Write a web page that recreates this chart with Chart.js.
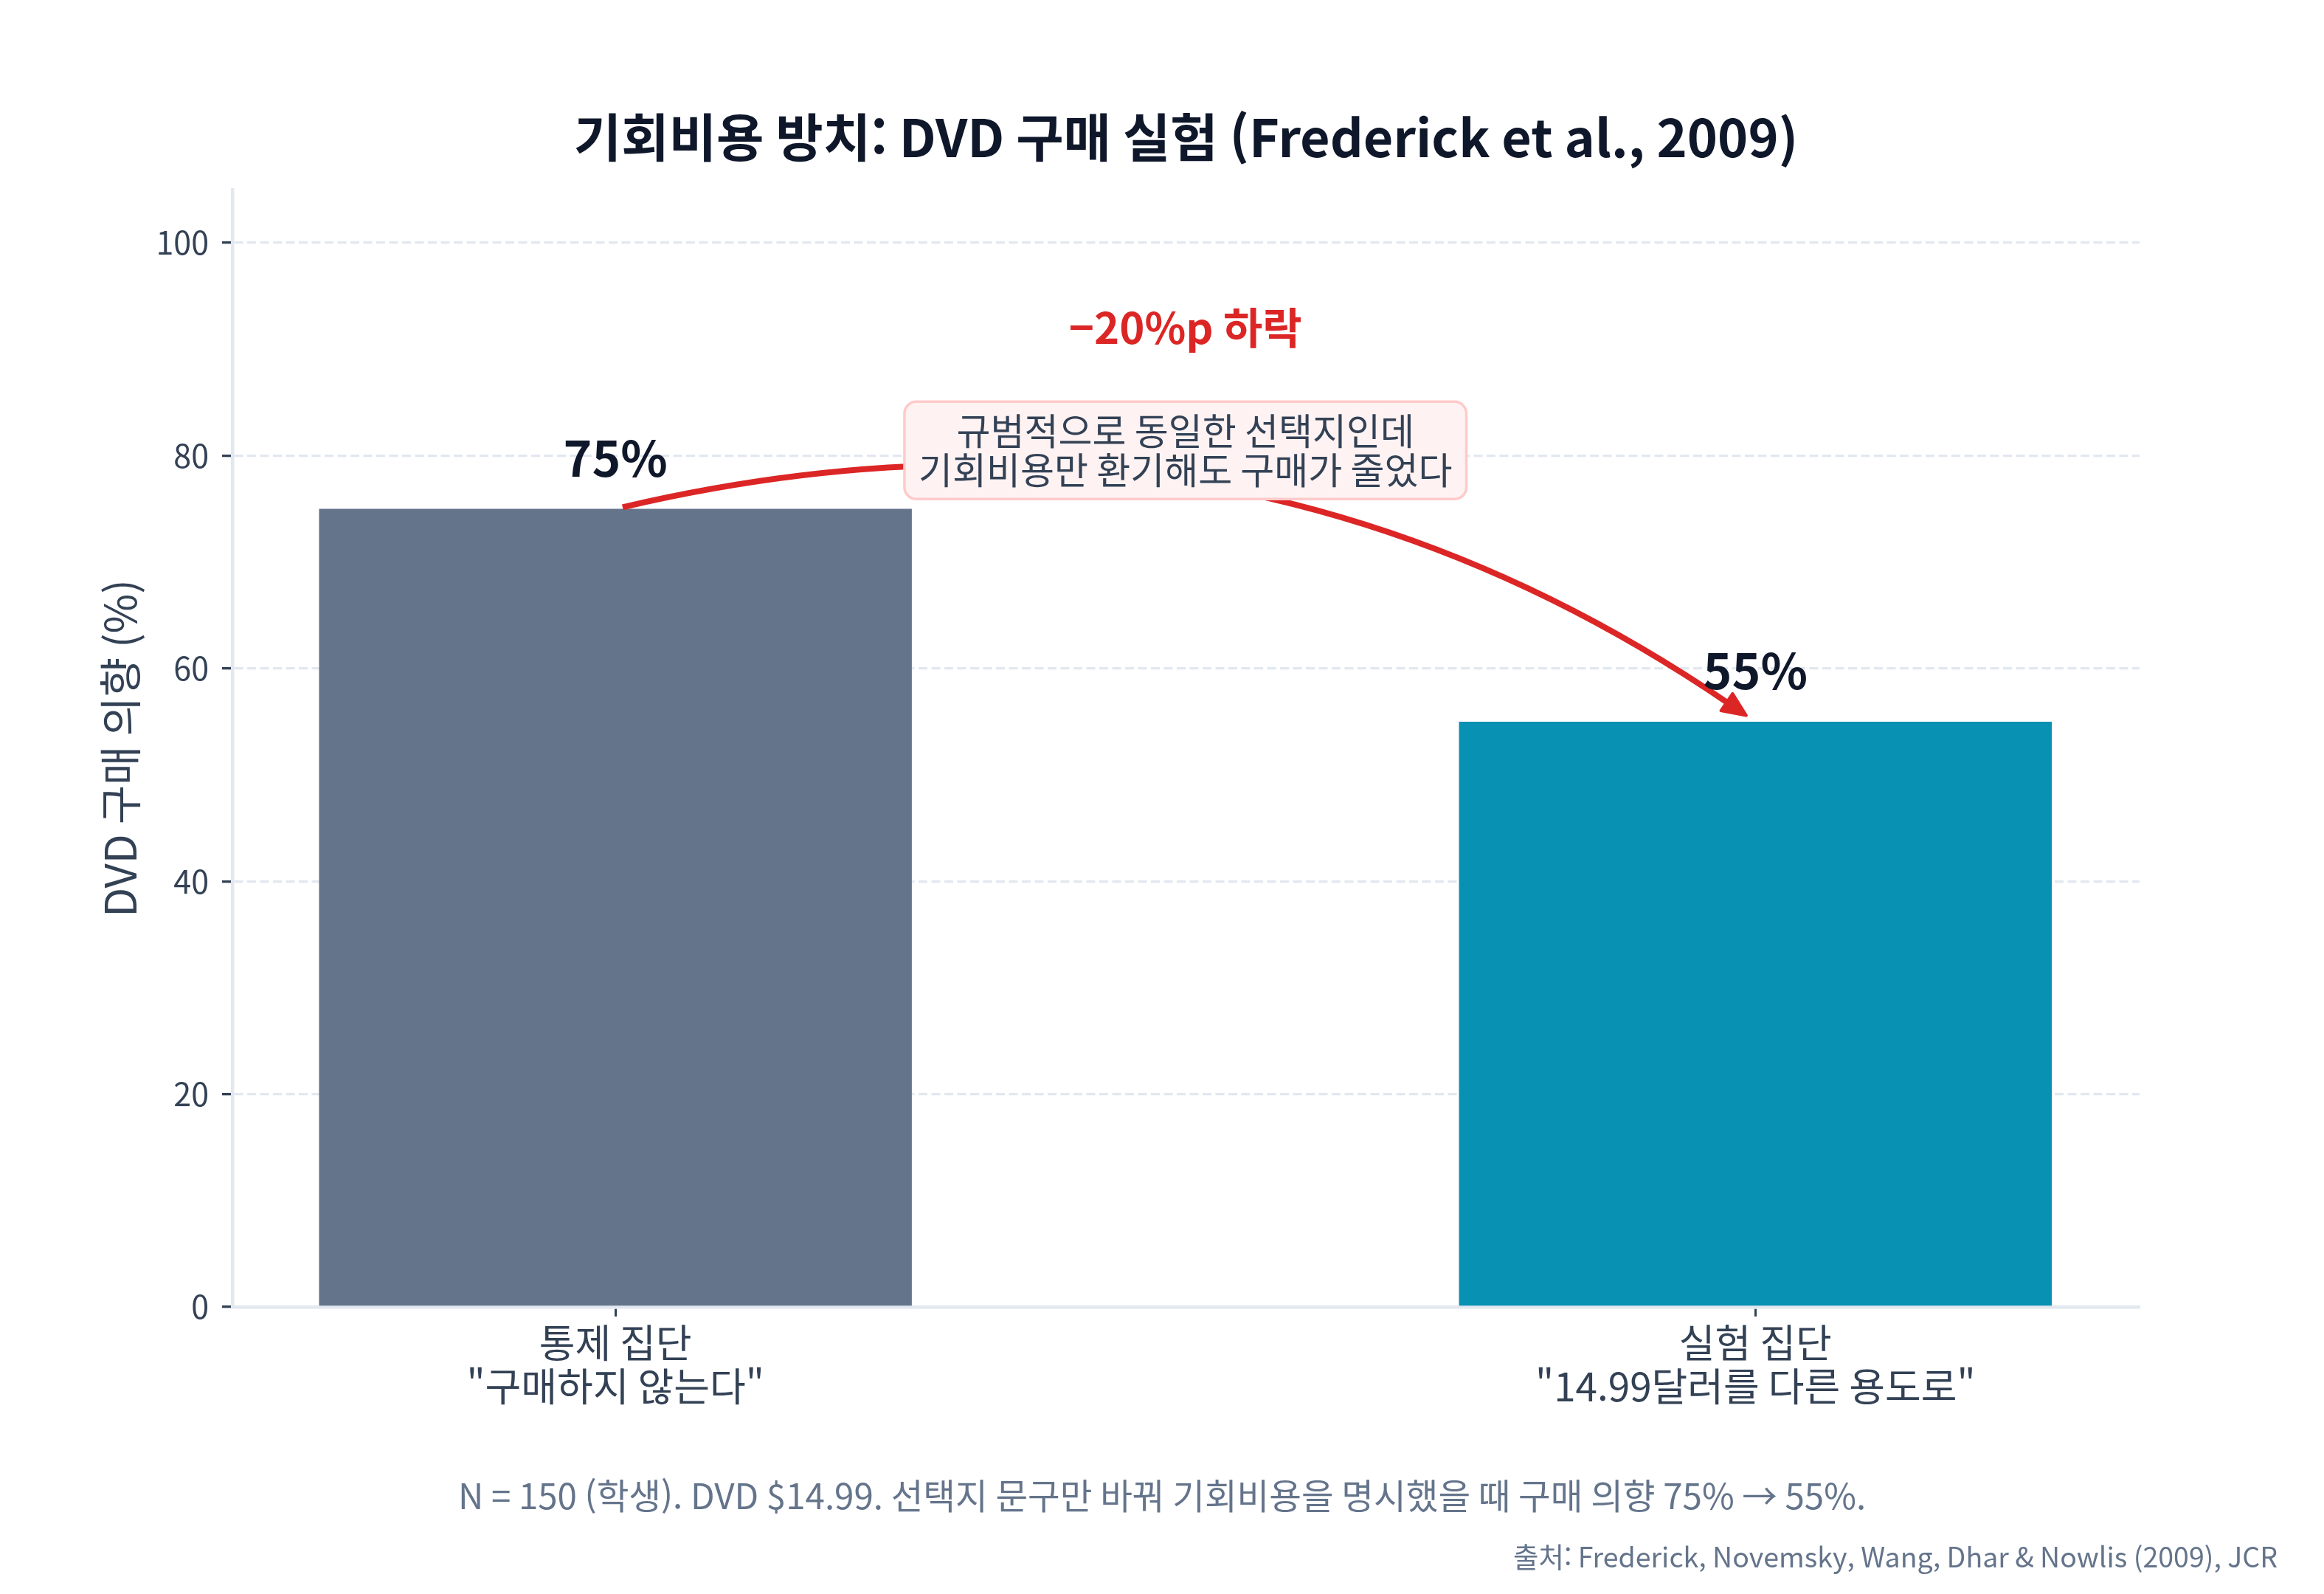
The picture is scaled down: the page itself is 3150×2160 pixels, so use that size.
<!DOCTYPE html>
<html lang="ko">
<head>
<meta charset="utf-8">
<title>기회비용 방치: DVD 구매 실험</title>
<script src="https://cdn.jsdelivr.net/npm/chart.js@4.4.1/dist/chart.umd.min.js"></script>
<style>
  html, body { margin: 0; padding: 0; background: #ffffff; }
  #wrap { width: 3150px; height: 2160px; }
  canvas { display: block; }
</style>
</head>
<body>
<div id="wrap"><canvas id="chart" width="3150" height="2160"></canvas></div>
<script>
const FONT = '"Noto Sans CJK KR", "Noto Sans", sans-serif';

// data
const groupNames = ['통제 집단', '실험 집단'];
const choiceTexts = ['"구매하지 않는다"', '"14.99달러를 다른 용도로"'];
const purchaseRates = [75, 55];
const barColors = ['#64748b', '#0891b2'];
const dropLabel = '\u221220%p 하락';
const noteLines = ['규범적으로 동일한 선택지인데', '기회비용만 환기해도 구매가 줄었다'];
const titleText = '기회비용 방치: DVD 구매 실험 (Frederick et al., 2009)';
const yTitle = 'DVD 구매 의향 (%)';
const footNote = 'N = 150 (학생). DVD $14.99. 선택지 문구만 바꿔 기회비용을 명시했을 때 구매 의향 75% \u2192 55%.';
const sourceNote = '출처: Frederick, Novemsky, Wang, Dhar & Nowlis (2009), JCR';

const C = {
  title: '#0f172a',
  text: '#334155',
  muted: '#64748b',
  grid: '#e2e8f0',
  red: '#dc2626',
  boxFill: '#fef2f2',
  boxLine: '#fecaca',
};

function unit(a, b) {
  const dx = b.x - a.x, dy = b.y - a.y;
  const len = Math.hypot(dx, dy) || 1;
  return { x: dx / len, y: dy / len };
}

const annotations = {
  id: 'annotations',
  afterDatasetsDraw(chart) {
    const { ctx, scales: { x, y } } = chart;
    ctx.save();

    // curved arrow from control bar top to experiment bar top
    const p0 = { x: x.getPixelForValue(0), y: y.getPixelForValue(purchaseRates[0]) };
    const p2 = { x: x.getPixelForValue(1), y: y.getPixelForValue(purchaseRates[1]) };
    const rad = 0.22;
    const c = {
      x: (p0.x + p2.x) / 2 + rad * (p2.y - p0.y),
      y: (p0.y + p2.y) / 2 - rad * (p2.x - p0.x),
    };
    const u0 = unit(p0, c);
    const s = { x: p0.x + u0.x * 10, y: p0.y + u0.y * 10 };
    const u2 = unit(c, p2);
    const tip = { x: p2.x - u2.x * 15, y: p2.y - u2.y * 15 };
    const headLen = 32, headHalf = 14;
    const base = { x: tip.x - u2.x * headLen, y: tip.y - u2.y * headLen };

    ctx.strokeStyle = C.red;
    ctx.lineWidth = 8;
    ctx.beginPath();
    ctx.moveTo(s.x, s.y);
    ctx.quadraticCurveTo(c.x, c.y, base.x + u2.x * 4, base.y + u2.y * 4);
    ctx.stroke();

    ctx.fillStyle = C.red;
    ctx.lineWidth = 4;
    ctx.lineJoin = 'round';
    ctx.beginPath();
    ctx.moveTo(tip.x, tip.y);
    ctx.lineTo(base.x - u2.y * headHalf, base.y + u2.x * headHalf);
    ctx.lineTo(base.x + u2.y * headHalf, base.y - u2.x * headHalf);
    ctx.closePath();
    ctx.fill();
    ctx.stroke();

    // note box
    ctx.font = `50px ${FONT}`;
    const lineGap = 53;
    const maxW = Math.max(...noteLines.map(t => ctx.measureText(t).width));
    const bx = x.getPixelForValue(0.5);
    const by = y.getPixelForValue(80.5);
    const bw = maxW + 2 * 19;
    const bh = noteLines.length * lineGap + 2 * 13;
    ctx.beginPath();
    ctx.roundRect(bx - bw / 2, by - bh / 2, bw, bh, 16);
    ctx.fillStyle = C.boxFill;
    ctx.fill();
    ctx.lineWidth = 3.5;
    ctx.strokeStyle = C.boxLine;
    ctx.stroke();

    ctx.fillStyle = C.text;
    ctx.textAlign = 'center';
    ctx.textBaseline = 'middle';
    noteLines.forEach((t, i) => {
      ctx.fillText(t, bx, by - ((noteLines.length - 1) / 2 - i) * lineGap);
    });

    // drop label
    ctx.font = `bold 58px ${FONT}`;
    ctx.fillStyle = C.red;
    ctx.fillText(dropLabel, x.getPixelForValue(0.5), y.getPixelForValue(92));

    // value labels
    ctx.font = `bold 66px ${FONT}`;
    ctx.fillStyle = C.title;
    ctx.textBaseline = 'alphabetic';
    chart.getDatasetMeta(0).data.forEach((bar, i) => {
      ctx.fillText(purchaseRates[i] + '%', bar.x, bar.y - 44);
    });

    ctx.restore();
  },
  afterDraw(chart) {
    const { ctx } = chart;
    ctx.save();
    ctx.textBaseline = 'middle';
    ctx.fillStyle = C.muted;
    ctx.font = `47.5px ${FONT}`;
    ctx.textAlign = 'center';
    ctx.fillText(footNote, chart.width / 2, 2027);
    ctx.font = `37.5px ${FONT}`;
    ctx.textAlign = 'right';
    ctx.fillText(sourceNote, chart.width * 0.98, 2110);
    ctx.restore();
  },
};

function draw() {
  new Chart(document.getElementById('chart'), {
    type: 'bar',
    data: {
      datasets: [{
        data: purchaseRates.map((v, i) => ({ x: i, y: v })),
        backgroundColor: barColors,
        borderWidth: 0,
        barPercentage: 0.52,
        categoryPercentage: 1,
      }],
    },
    options: {
      responsive: false,
      devicePixelRatio: 1,
      animation: false,
      layout: { padding: { left: 0, right: 250, top: 0, bottom: 0 } },
      plugins: {
        legend: { display: false },
        tooltip: { enabled: false },
        title: {
          display: true,
          text: titleText,
          fullSize: false,
          color: C.title,
          font: { family: FONT, size: 70, weight: 'bold', lineHeight: 1.2 },
          padding: { top: 144, bottom: 29 },
        },
      },
      scales: {
        x: {
          type: 'linear',
          min: -0.336,
          max: 1.337,
          offset: false,
          afterBuildTicks: scale => {
            scale.ticks = groupNames.map((_, i) => ({ value: i }));
          },
          afterFit: scale => { scale.height = 389; },
          grid: {
            offset: false,
            drawOnChartArea: false,
            drawTicks: true,
            tickLength: 13,
            tickColor: C.text,
            tickWidth: 3,
          },
          border: { display: true, color: C.grid, width: 4.5 },
          ticks: {
            autoSkip: false,
            maxRotation: 0,
            padding: 7,
            color: C.text,
            font: { family: FONT, size: 53, lineHeight: 1.1 },
            callback: v => [groupNames[v], choiceTexts[v]],
          },
        },
        y: {
          type: 'linear',
          min: 0,
          max: 105,
          afterFit: scale => { scale.width = 315; },
          grid: {
            color: C.grid,
            lineWidth: 3.3,
            drawTicks: true,
            tickLength: 14,
            tickColor: C.text,
            tickWidth: 3.3,
            tickBorderDash: [],
          },
          border: { display: true, color: C.grid, width: 4.5, dash: [12, 5.5] },
          ticks: {
            stepSize: 20,
            includeBounds: false,
            padding: 18,
            color: C.text,
            font: { family: FONT, size: 43 },
          },
          title: {
            display: true,
            text: yTitle,
            color: C.text,
            font: { family: FONT, size: 58, lineHeight: 1.2 },
            padding: { top: 128, bottom: 0 },
          },
        },
      },
    },
    plugins: [annotations],
  });
}

Promise.all([
  document.fonts.load(`46px ${FONT}`, '가A'),
  document.fonts.load(`bold 70px ${FONT}`, '가A'),
]).catch(() => {}).then(draw);
</script>
</body>
</html>
